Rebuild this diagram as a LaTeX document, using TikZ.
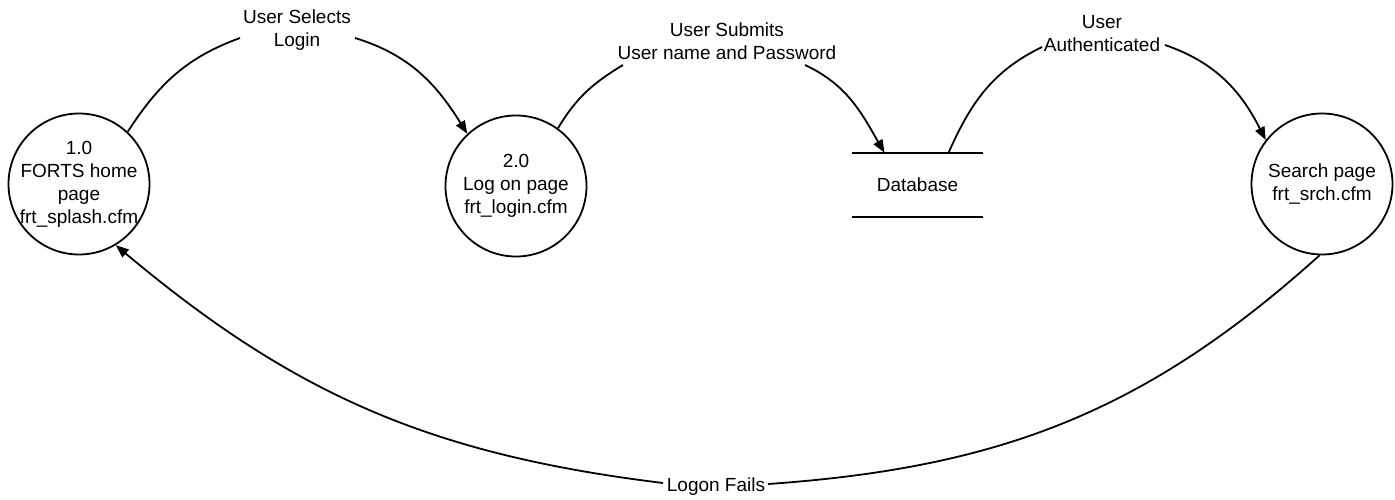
\documentclass[tikz,border=0pt]{standalone}
\usepackage{fontspec}
\setmainfont{Liberation Sans}
\usetikzlibrary{arrows.meta}
\begin{document}
\begin{tikzpicture}[x=1pt,y=1pt,
  every node/.style={font=\fontsize{19}{23}\selectfont, align=center},
  proc/.style={circle, draw, line width=1.8pt, minimum size=141pt, inner sep=0pt},
  flow/.style={line width=1.8pt},
  flowto/.style={flow, -{Triangle[length=13pt,width=10pt]}},
]
\useasboundingbox (0,0) rectangle (1395,-500);

% processes
\node[proc] (c1) at (79,-184) {};
\node (t1) at (c1) {1.0\\FORTS home\\page\\frt\_splash.cfm};
\node[proc] (c2) at (516,-186) {};
\node (t2) at (c2) {2.0\\Log on page\\frt\_login.cfm};
\node[proc] (c4) at (1322,-184) {};
\node (t4) at (c4) {Search page\\frt\_srch.cfm};

% data store
\node[minimum width=131pt, minimum height=64pt, inner sep=0pt] (db) at (917.5,-185) {Database};
\draw[flow] (db.north west) -- (db.north east);
\draw[flow] (db.south west) -- (db.south east);

% flow labels and the ends of the lines that meet them
\node (l1) at (297,-30) {User Selects\\Login};
\coordinate (l1w) at (240,-38);
\coordinate (l1e) at (355,-38);
\node (l2) at (727,-41) {User Submits\\User name and Password};
\coordinate (l2w) at (623,-65);
\coordinate (l2e) at (805,-65);
\node (l3) at (1102,-34) {User\\Authenticated};
\coordinate (l3w) at (1042,-47);
\coordinate (l3e) at (1165,-45);
\node (l4) at (716,-487) {Logon Fails};
\coordinate (l4w) at (663,-483);
\coordinate (l4e) at (768,-484);

% flows
\draw[flow] (c1.47) to[out=57,in=200] (l1w);
\draw[flowto] (l1e) to[out=-17,in=122] (c2.133);
\draw[flow] (c2.54) to[out=59,in=211] (l2w);
\draw[flowto] (l2e) to[out=-25,in=120] ([xshift=-33pt]db.north);
\draw[flow] ([xshift=31pt]db.north) to[out=66,in=206] (l3w);
\draw[flowto] (l3e) to[out=-19,in=117] (c4.142);
\draw[flow] (c4.-92) to[out=222,in=4] (l4e);
\draw[flowto] (l4w) to[out=173,in=-40] (c1.-59);
\end{tikzpicture}
\end{document}
